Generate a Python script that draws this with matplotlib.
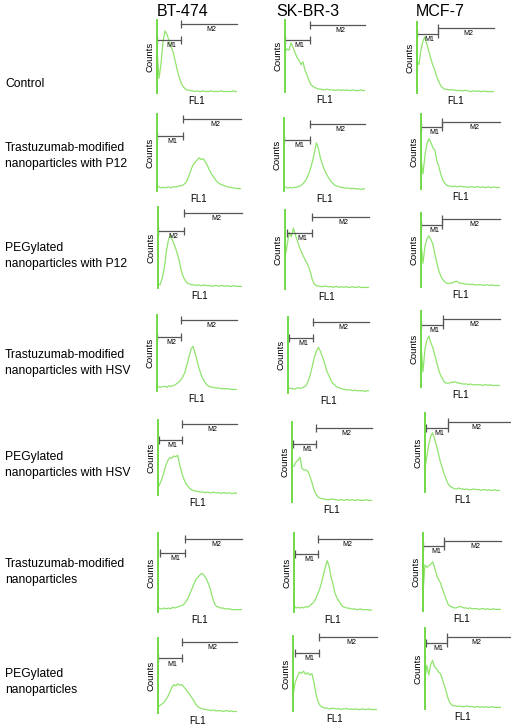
import numpy as np
import matplotlib
matplotlib.use("Agg")
import matplotlib.pyplot as plt

plt.rcParams['font.family'] = ['Liberation Sans', 'DejaVu Sans']

# cell lines (columns) and treatments (rows)
cell_lines = ["BT-474", "SK-BR-3", "MCF-7"]
treatments = ["Control",
              "Trastuzumab-modified\nnanoparticles with P12",
              "PEGylated\nnanoparticles with P12",
              "Trastuzumab-modified\nnanoparticles with HSV",
              "PEGylated\nnanoparticles with HSV",
              "Trastuzumab-modified\nnanoparticles",
              "PEGylated\nnanoparticles"]

# histograms (counts, % of axis height) over FL1 channel 0..100
bt_control = [60,20,40,70,85,80,72,63,57,45,33,22,14,9,6,4,4,3,3,2,3,2,2,3,2,2,2,3,2,2,2,2,3,2,2,2,2,2,3,2,2]
bt_tras_p12 = [8,5,4,5,4,5,5,4,6,5,6,7,7,9,12,18,26,33,37,40,43,41,42,38,33,27,22,18,14,11,9,8,7,6,5,5,4,4,3,3,3]
bt_peg_p12 = [5,4,12,25,45,60,65,58,52,44,35,22,14,9,6,5,4,4,3,4,3,3,4,3,3,3,2,3,3,2,3,3,2,3,2,2,3,2,2,2,2]
bt_tras_hsv = [8,5,5,6,6,5,7,6,7,8,10,12,15,19,25,35,45,55,59,50,40,30,22,16,11,8,6,5,5,4,4,4,3,3,3,3,3,2,2,2,2]
bt_peg_hsv = [10,15,22,30,40,46,50,49,52,51,53,40,30,22,16,12,9,7,6,5,5,4,4,4,3,4,3,3,4,3,3,3,2,3,3,2,3,2,2,3,2]
bt_tras = [6,4,4,5,4,5,4,6,5,6,7,8,9,12,16,22,28,35,41,44,47,49,46,42,36,28,18,10,7,6,5,5,4,4,4,3,3,3,3,3,3]
bt_peg = [8,10,12,14,18,22,28,34,38,36,39,37,38,35,32,28,25,21,17,12,9,7,6,5,5,4,4,3,4,3,3,3,3,2,3,3,2,3,2,2,2]

sk_control = [55,60,58,68,62,55,48,44,38,42,30,24,16,10,8,6,5,4,4,3,3,4,3,3,3,2,3,3,2,3,2,3,2,2,3,2,2,2,3,2,2]
sk_tras_p12 = [6,5,4,5,4,5,5,6,7,9,12,16,22,30,40,52,66,58,45,36,29,23,18,14,11,8,7,6,5,5,4,4,4,3,4,3,3,3,2,3,3]
sk_peg_p12 = [40,55,72,66,77,68,60,52,46,40,35,30,22,12,6,4,4,3,3,4,3,3,3,2,3,3,2,3,2,3,2,2,3,2,2,3,2,2,2,2,2]
sk_tras_hsv = [8,6,6,5,6,7,6,7,8,10,16,24,35,47,55,60,55,48,40,30,24,18,13,11,8,7,6,5,5,4,4,4,3,4,3,3,3,3,2,3,3]
sk_peg_hsv = [44,45,50,52,56,42,40,40,38,32,24,15,10,6,5,4,4,3,3,3,4,3,3,2,3,3,2,3,3,2,3,2,2,3,2,2,2,3,2,2,2]
sk_tras = [8,5,6,5,6,5,7,6,8,10,12,16,22,28,36,46,56,65,58,44,35,24,18,14,10,7,6,5,5,4,4,4,3,3,4,3,3,3,3,2,3]
sk_peg = [20,38,45,52,50,53,49,51,48,50,38,22,12,7,5,4,4,3,3,4,3,3,3,2,3,3,3,2,3,2,3,2,2,3,2,2,3,2,2,2,2]

mcf_control = [45,40,60,72,79,70,60,50,41,34,25,18,12,8,6,5,5,4,5,4,4,3,4,3,3,4,3,3,2,3,3,2,3,2,2,3,2,2,2,2,2]
mcf_tras_p12 = [40,20,45,60,67,62,55,52,38,30,20,12,8,5,4,4,3,4,3,3,4,3,3,3,2,3,3,2,3,3,2,3,2,2,3,2,2,3,2,2,2]
mcf_peg_p12 = [60,32,55,65,69,64,58,45,33,22,15,10,7,5,5,5,6,7,8,6,5,5,4,4,4,3,4,3,3,3,3,3,2,3,3,2,3,2,2,2,2]
mcf_tras_hsv = [55,20,50,62,67,58,52,42,32,22,15,10,6,5,5,6,6,7,6,5,5,4,4,4,3,4,3,3,3,3,3,2,3,3,2,3,2,2,2,2,2]
mcf_peg_hsv = [30,45,60,70,75,68,60,50,40,32,24,18,12,8,6,5,4,4,5,4,4,3,4,3,3,3,4,3,3,3,2,3,3,2,3,2,2,3,2,2,2]
mcf_tras = [23,59,56,58,60,63,55,46,40,36,28,21,14,8,6,5,4,4,5,6,5,4,4,3,4,3,3,3,3,2,3,3,2,3,2,2,3,2,2,2,2]
mcf_peg = [38,54,42,55,60,52,50,46,44,38,30,23,14,8,5,4,4,3,4,3,3,3,4,3,3,3,2,3,3,2,3,2,3,2,2,3,2,2,2,2,2]

hists = [[bt_control, bt_tras_p12, bt_peg_p12, bt_tras_hsv, bt_peg_hsv, bt_tras, bt_peg],
         [sk_control, sk_tras_p12, sk_peg_p12, sk_tras_hsv, sk_peg_hsv, sk_tras, sk_peg],
         [mcf_control, mcf_tras_p12, mcf_peg_p12, mcf_tras_hsv, mcf_peg_hsv, mcf_tras, mcf_peg]]

# marker gates: M1 = [m1_start, gate], M2 = [gate, m2_end]
gate = [[30, 31, 31, 30, 30.4, 32, 30.4],
        [31, 32, 32, 31, 30, 31, 31],
        [27, 26.6, 26.6, 27.8, 30.7, 27, 29]]
m1_start = [[0, 0, 0, 0, 1, 2.4, 0],
            [0, 0, 2.4, 1.2, 1.2, 1.3, 2.4],
            [0, 0, 0, 0, 1.3, 0, 1.3]]
m2_end = [[100] * 7,
          [100] * 7,
          [100, 100, 100, 100, 115, 100, 113]]
m1_level = [[72.6, 71.4, 70.4, 71, 73.3, 74.7, 72.7],
            [72, 70, 71, 72.4, 72.5, 73.4, 77.6],
            [83, 82.7, 83.8, 81.6, 81, 83.3, 82]]
m2_level = [[94.5, 93.5, 92.6, 93.4, 94.7, 92.4, 94.8],
            [93, 91.8, 91, 93.4, 92.5, 92.4, 98.7],
            [91.5, 89.3, 91.9, 89.5, 88.6, 89.7, 89.3]]
m1_names = [["M1", "M1", "M2", "M2", "M1", "M1", "M1"],
            ["M1"] * 7,
            ["M1"] * 7]

# panel boxes in pixels: left, top, right, bottom
boxes = [[(157, 20, 237, 93), (157, 114, 241, 191), (158, 207, 242, 288), (157, 315, 237, 391),
          (158, 420, 237, 495), (158, 533, 242, 612), (158, 638, 237, 713)],
         [(285, 20, 365, 92), (284, 118, 365, 191), (285, 210, 369, 289), (288, 317, 369, 393),
          (292, 422, 372, 502), (294, 533, 372, 612), (293, 636, 377, 711)],
         [(417, 22, 494, 93), (421, 114, 500, 189), (421, 213, 500, 287), (421, 311, 500, 387),
          (425, 413, 500, 492), (423, 533, 501, 611), (425, 628, 501, 709)]]
header_x = [183, 308, 440]
label_y = [84, 156, 256, 363, 465, 572, 682]

W, H = 511, 726
fig = plt.figure(figsize=(W / 100, H / 100), dpi=100)

hist_color = "#90e46e"
axis_color = "#70da46"
gate_color = "#555555"

for c in range(3):
    fig.text(header_x[c] / W, 1 - 12 / H, cell_lines[c], fontsize=11.5, ha="center", va="center")
    for r in range(7):
        L, T, R, B = boxes[c][r]
        ax = fig.add_axes([L / W, 1 - B / H, (R - L) / W, (B - T) / H])
        y = hists[c][r]
        x = np.linspace(0, 100, len(y))
        ax.plot(x, y, color=hist_color, lw=0.9)
        ax.set_xlim(0, 100)
        ax.set_ylim(0, 100)
        ax.set_xticks([])
        ax.set_yticks([])
        for s in ["top", "right", "bottom"]:
            ax.spines[s].set_visible(False)
        ax.spines["left"].set_color(axis_color)
        ax.spines["left"].set_linewidth(1.4)
        ax.set_ylabel("Counts", fontsize=6.8, labelpad=2)
        ax.set_xlabel("FL1", fontsize=7, labelpad=2)

        g = gate[c][r]
        y1 = m1_level[c][r]
        y2 = m2_level[c][r]
        x0 = m1_start[c][r]
        x2 = m2_end[c][r]
        ax.plot([x0, g], [y1, y1], color=gate_color, lw=0.9, marker="|", ms=6,
                mew=0.9, clip_on=False)
        ax.plot([g, x2], [y2, y2], color=gate_color, lw=0.9, marker="|", ms=6,
                mew=0.9, markevery=[0], clip_on=False)
        ax.annotate(m1_names[c][r], ((x0 + g) / 2 + 3, y1), xytext=(0, -1.5),
                    textcoords="offset points", fontsize=5, ha="center", va="top",
                    annotation_clip=False)
        ax.annotate("M2", (g + (100 - g) * 0.55, y2), xytext=(0, -1.5),
                    textcoords="offset points", fontsize=5, ha="center", va="top",
                    annotation_clip=False)

for r in range(7):
    fig.text(5 / W, 1 - label_y[r] / H, treatments[r], fontsize=8.7, ha="left",
             va="center", linespacing=1.55)

fig.savefig("out.png", dpi=100)
